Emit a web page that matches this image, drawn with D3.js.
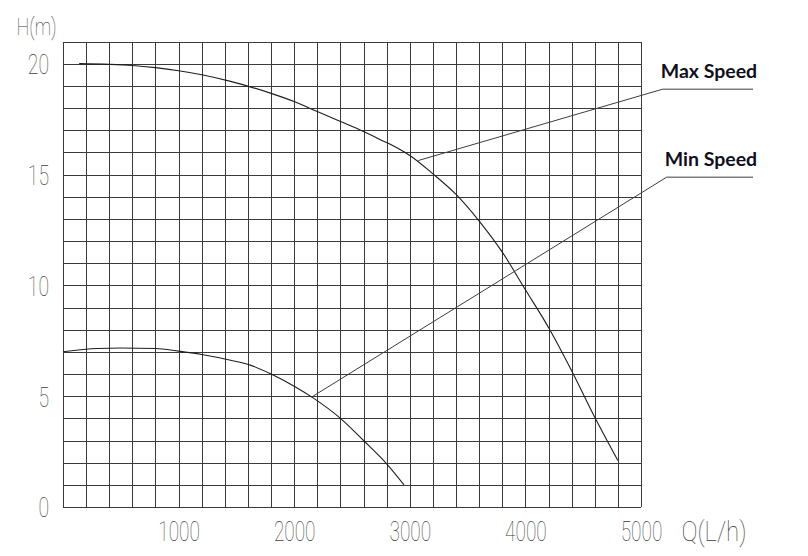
<!DOCTYPE html>
<html>
<head>
<meta charset="utf-8">
<script src="https://cdn.jsdelivr.net/npm/d3@7/dist/d3.min.js"></script>
<style>
  html, body { margin: 0; padding: 0; background: #fff; }
  svg { display: block; }
</style>
</head>
<body>
<svg id="chart" width="808" height="556"></svg>
<script>
// ---- Data ----
const xTickLabels = [1000, 2000, 3000, 4000, 5000];
const yTickLabels = [0, 5, 10, 15, 20];
const xAxisTitle = "Q(L/h)";
const yAxisTitle = "H(m)";

// Max speed curve: flow Q (L/h) and head H (m)
const maxQ = [140, 400, 600, 800, 1000, 1200, 1450, 1800, 2000, 2200, 2400, 2600, 2750, 2900, 3000, 3200, 3400, 3600, 3800, 4000, 4200, 4400, 4600, 4800];
const maxH = [20.0, 19.97, 19.92, 19.82, 19.68, 19.5, 19.2, 18.66, 18.29, 17.84, 17.39, 16.94, 16.56, 16.17, 15.86, 15.03, 14.1, 12.9, 11.5, 9.8, 8.1, 6.15, 4.05, 2.1];

// Min speed curve
const minQ = [0, 300, 500, 800, 1000, 1200, 1450, 1620, 1800, 2000, 2170, 2400, 2600, 2800, 2950];
const minH = [7.0, 7.15, 7.17, 7.15, 7.03, 6.88, 6.62, 6.4, 6.0, 5.45, 4.9, 4.0, 3.0, 1.95, 1.0];

// Series labels and their leader lines (data units)
const seriesNames = ["Max Speed", "Min Speed"];
const leaderQ = [[3073, 5188, 5969], [2163, 5222, 5969]];
const leaderH = [[15.63, 18.85, 18.85], [5.0, 14.88, 14.88]];

(function () {
const svg = d3.select("#chart");
const mLeft = 63, mRight = 641, mTop = 41.5, mBottom = 507;
const x = d3.scaleLinear().domain([0, 5000]).range([mLeft, mRight]);
const y = d3.scaleLinear().domain([0, 21]).range([mBottom, mTop]);

const gridColor = "#3a3a3a";
const labelFont = "Roboto, 'DejaVu Sans', sans-serif";
const labelColor = "#3c3c3c";
const labelWeight = 100;

// Grid (vertical)
const gx = svg.append("g")
  .attr("transform", `translate(0,${mBottom})`)
  .call(d3.axisBottom(x).tickValues(d3.range(0, 5001, 200)).tickSize(-(mBottom - mTop)).tickFormat(""));
gx.select(".domain").remove();
gx.selectAll("line").attr("stroke", gridColor).attr("stroke-width", 1).attr("shape-rendering", "crispEdges");

// Grid (horizontal)
const gy = svg.append("g")
  .attr("transform", `translate(${mLeft},0)`)
  .call(d3.axisLeft(y).tickValues(d3.range(0, 22, 1)).tickSize(-(mRight - mLeft)).tickFormat(""));
gy.select(".domain").remove();
gy.selectAll("line").attr("stroke", gridColor).attr("stroke-width", 1).attr("shape-rendering", "crispEdges");

// X tick labels
const ax = svg.append("g")
  .attr("transform", `translate(0,${mBottom})`)
  .call(d3.axisBottom(x).tickValues(xTickLabels).tickSize(0).tickFormat(d3.format("d")));
ax.select(".domain").remove();
ax.selectAll("text")
  .attr("y", 34).attr("dy", null)
  .attr("font-family", labelFont).attr("font-weight", labelWeight).attr("font-size", 28)
  .attr("fill", labelColor)
  .attr("textLength", d => String(d).length * 10.4)
  .attr("lengthAdjust", "spacingAndGlyphs");

// Y tick labels
const ay = svg.append("g")
  .attr("transform", `translate(${mLeft},0)`)
  .call(d3.axisLeft(y).tickValues(yTickLabels).tickSize(0).tickPadding(14).tickFormat(d3.format("d")));
ay.select(".domain").remove();
ay.selectAll("text")
  .attr("dy", "0.355em")
  .attr("font-family", labelFont).attr("font-weight", labelWeight).attr("font-size", 28)
  .attr("fill", labelColor)
  .attr("textLength", d => String(d).length * 10.6)
  .attr("lengthAdjust", "spacingAndGlyphs");

// Axis titles
svg.append("text")
  .attr("x", 16.5).attr("y", 35)
  .attr("font-family", labelFont).attr("font-weight", labelWeight).attr("font-size", 24)
  .attr("fill", labelColor)
  .attr("textLength", 40).attr("lengthAdjust", "spacingAndGlyphs")
  .text(yAxisTitle);

svg.append("text")
  .attr("x", x(5000) + 40.5).attr("y", mBottom + 34)
  .attr("font-family", labelFont).attr("font-weight", labelWeight).attr("font-size", 28)
  .attr("fill", labelColor)
  .attr("textLength", 65).attr("lengthAdjust", "spacingAndGlyphs")
  .text(xAxisTitle);

// Curves
const line = d3.line().x(d => x(d[0])).y(d => y(d[1])).curve(d3.curveMonotoneX);
const curves = [d3.zip(maxQ, maxH), d3.zip(minQ, minH)];
svg.append("g").selectAll("path").data(curves).join("path")
  .attr("d", line)
  .attr("fill", "none")
  .attr("stroke", "#1e1e1e")
  .attr("stroke-width", 1.1);

// Leader lines
const straight = d3.line().x(d => x(d[0])).y(d => y(d[1]));
const leaders = leaderQ.map((qs, i) => d3.zip(qs, leaderH[i]));
svg.append("g").selectAll("path").data(leaders).join("path")
  .attr("d", straight)
  .attr("fill", "none")
  .attr("stroke", "#3c3c3c")
  .attr("stroke-width", 1);

// Series labels
svg.append("g").selectAll("text").data(leaders).join("text")
  .attr("x", d => x(d[1][0]) - 2)
  .attr("y", d => y(d[1][1]) - 11.5)
  .attr("font-family", "Lato, 'Open Sans', sans-serif")
  .attr("font-weight", 700)
  .attr("font-size", 19.5)
  .attr("fill", "#10101c")
  .text((d, i) => seriesNames[i]);
})();
</script>
</body>
</html>
